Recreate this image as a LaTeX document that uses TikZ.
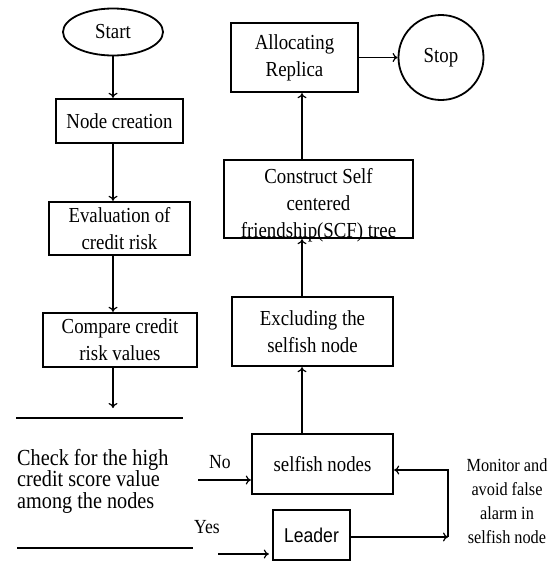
\documentclass[tikz,border=0pt]{standalone}
\usepackage{fontspec}
\setmainfont{Liberation Serif}[FakeStretch=0.88]
\newfontfamily\sansfam{Liberation Sans}[FakeStretch=0.88]
\usetikzlibrary{shapes.geometric,arrows.meta}
\begin{document}
\begin{tikzpicture}[x=1pt,y=1pt]
\tikzstyle{every node}+=[inner sep=0pt, align=center, font=\fontsize{21.4}{27}\selectfont]
\tikzstyle{box}=[draw, line width=2.4pt]
\tikzstyle{flow}=[line width=1.2pt, -{To[length=5pt,width=9pt]}]
\useasboundingbox (0,0) rectangle (558,-563);
% left column
\node [draw, ellipse, line width=1.8pt, minimum width=100pt, minimum height=47pt] (start) at (113,-32) {Start};
\node [box, minimum width=127pt, minimum height=44pt] (create) at (119.5,-121) {Node creation};
\node [box, minimum width=141pt, minimum height=53pt] (eval) at (119.5,-228.5) {Evaluation of\\credit risk};
\node [box, minimum width=154pt, minimum height=54pt] (compare) at (120,-340) {Compare credit\\risk values};
\coordinate (down) at (113,-408);
\draw [flow] (start.south) -- (start.south |- create.north);
\draw [flow] (start.south |- create.south) -- (start.south |- eval.north);
\draw [flow] (start.south |- eval.south) -- (start.south |- compare.north);
\draw [flow] (down |- compare.south) -- (down);
% decision
\draw [line width=1.2pt] (16,-418) -- (183,-418);
\draw [line width=1.2pt] (17,-548) -- (193,-548);
\node [anchor=west, align=left, font=\fontsize{23}{21.5}\selectfont] (check) at (17,-481) {Check for the high\\credit score value\\among the nodes};
% right column
\node [box, minimum width=127pt, minimum height=69pt] (alloc) at (294.5,-57.5) {Allocating\\Replica};
\node [draw, circle, line width=1.8pt, minimum size=85pt] (stop) at (441,-57.5) {Stop};
\node [align=center] (scftext) at (318.5,-205) {Construct Self\\centered\\friendship(SCF) tree};
\node [box, fill=none, minimum width=189pt, minimum height=78pt] (scf) at (318.5,-199) {};
\node [box, minimum width=161pt, minimum height=69pt] (exclude) at (312.5,-331.5) {Excluding the\\selfish node};
\node [box, minimum width=141pt, minimum height=60pt] (selfish) at (322.5,-464) {selfish nodes};
\node [box, minimum width=77pt, minimum height=50pt, font=\sansfam\fontsize{20}{22}\selectfont] (leader) at (311.5,-535) {Leader};
\node [font=\fontsize{18.5}{24}\selectfont] (monitor) at (507,-501) {Monitor and\\avoid false\\alarm in\\selfish node};
\coordinate (spine) at (302,0);
\draw [flow] (spine |- selfish.north) -- (spine |- exclude.south);
\draw [flow] (spine |- exclude.north) -- (spine |- scf.south);
\draw [flow] (spine |- scf.north) -- (spine |- alloc.south);
\draw [flow] (alloc) -- (stop);
% No / Yes branches
\node [font=\fontsize{20}{22}\selectfont] (no) at (220,-462) {No};
\node [font=\fontsize{20}{22}\selectfont] (yes) at (207,-527) {Yes};
\coordinate (noin) at (198,-480);
\coordinate (yesin) at (218,-554);
\draw [flow] (noin) -- (noin -| selfish.west);
\draw [flow] (yesin) -- ([xshift=-3pt]yesin -| leader.west);
% monitor loop
\coordinate (corner) at (448,-537);
\coordinate (turn) at (448,-470);
\draw [flow] (leader.east |- corner) -- (corner);
\draw [flow] (corner) -- (turn) -- (turn -| selfish.east);
\end{tikzpicture}
\end{document}
